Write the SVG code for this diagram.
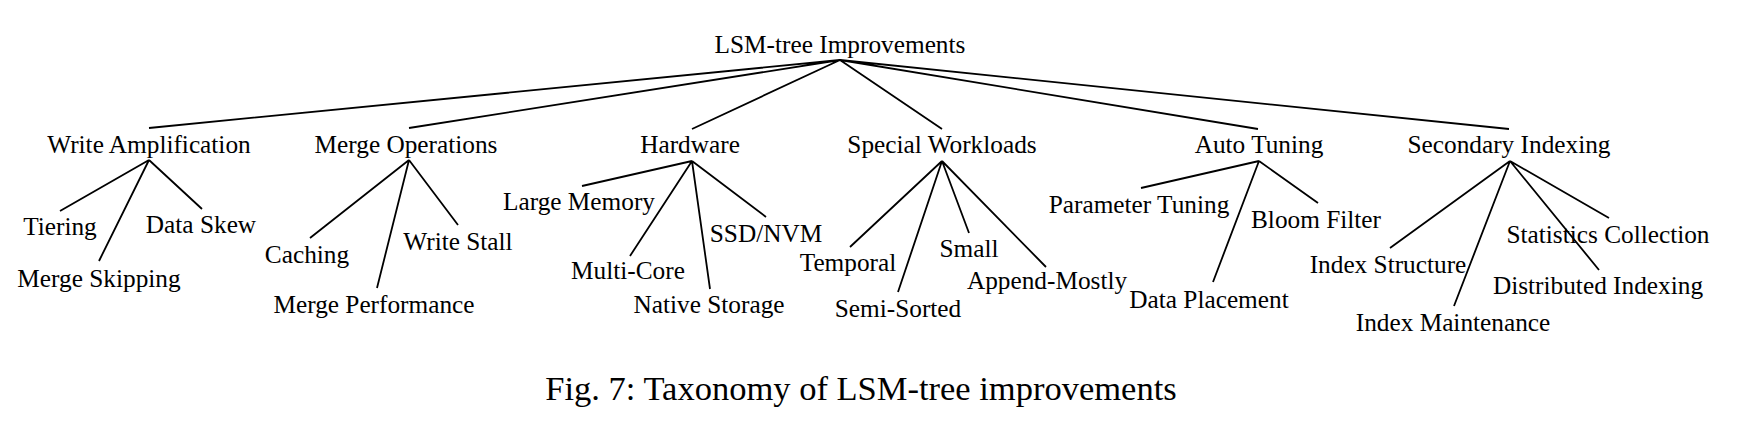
<svg xmlns="http://www.w3.org/2000/svg" width="1738" height="422" viewBox="0 0 1738 422">
<style>
text{font-family:"Liberation Serif","Times New Roman",serif;font-size:25.3px;fill:#000;text-anchor:middle}
.cap{font-size:34.5px}
.e{stroke:#000;stroke-width:1.8;fill:none}
</style>
<rect width="1738" height="422" fill="#fff"/>
<g id="connectors">
<path class="e" d="M840 60L149 128M840 60L409 128M840 60L692 129M840 60L942 129M840 60L1258 129M840 60L1509 129"/>
<path class="e" d="M149 160L60 211M149 160L99 261M149 160L202 209"/>
<path class="e" d="M409 160L310 238M409 160L377 288M409 160L458 225"/>
<path class="e" d="M692 161L582 186M692 161L630 256M692 161L710 289M692 161L766 217"/>
<path class="e" d="M942 161L850 247M942 161L898 292M942 161L969 233M942 161L1046 267"/>
<path class="e" d="M1259 161L1141 188M1259 161L1213 282M1259 161L1318 203"/>
<path class="e" d="M1510 161L1390 248M1510 161L1454 306M1510 161L1609 218M1510 161L1599 270"/>
</g>
<g id="root"><text x="840" y="53">LSM-tree Improvements</text></g>
<g id="write-amplification"><text x="149" y="153">Write Amplification</text></g>
<g id="tiering"><text x="60" y="235">Tiering</text></g>
<g id="merge-skipping"><text x="99" y="287">Merge Skipping</text></g>
<g id="data-skew"><text x="201" y="233">Data Skew</text></g>
<g id="merge-operations"><text x="406" y="153">Merge Operations</text></g>
<g id="caching"><text x="307" y="263">Caching</text></g>
<g id="merge-performance"><text x="374" y="313">Merge Performance</text></g>
<g id="write-stall"><text x="458" y="250">Write Stall</text></g>
<g id="hardware"><text x="690" y="153">Hardware</text></g>
<g id="large-memory"><text x="579" y="210">Large Memory</text></g>
<g id="multi-core"><text x="628" y="279">Multi-Core</text></g>
<g id="native-storage"><text x="709" y="313">Native Storage</text></g>
<g id="ssd-nvm"><text x="766" y="242">SSD/NVM</text></g>
<g id="special-workloads"><text x="942" y="153">Special Workloads</text></g>
<g id="temporal"><text x="848" y="271">Temporal</text></g>
<g id="semi-sorted"><text x="898" y="317">Semi-Sorted</text></g>
<g id="small"><text x="969" y="257">Small</text></g>
<g id="append-mostly"><text x="1047" y="289">Append-Mostly</text></g>
<g id="auto-tuning"><text x="1259" y="153">Auto Tuning</text></g>
<g id="parameter-tuning"><text x="1139" y="213">Parameter Tuning</text></g>
<g id="data-placement"><text x="1209" y="308">Data Placement</text></g>
<g id="bloom-filter"><text x="1316" y="228">Bloom Filter</text></g>
<g id="secondary-indexing"><text x="1509" y="153">Secondary Indexing</text></g>
<g id="index-structure"><text x="1388" y="273">Index Structure</text></g>
<g id="index-maintenance"><text x="1453" y="331">Index Maintenance</text></g>
<g id="statistics-collection"><text x="1608" y="243">Statistics Collection</text></g>
<g id="distributed-indexing"><text x="1598" y="294">Distributed Indexing</text></g>
<g id="caption"><text class="cap" x="861" y="400">Fig. 7: Taxonomy of LSM-tree improvements</text></g>
</svg>
